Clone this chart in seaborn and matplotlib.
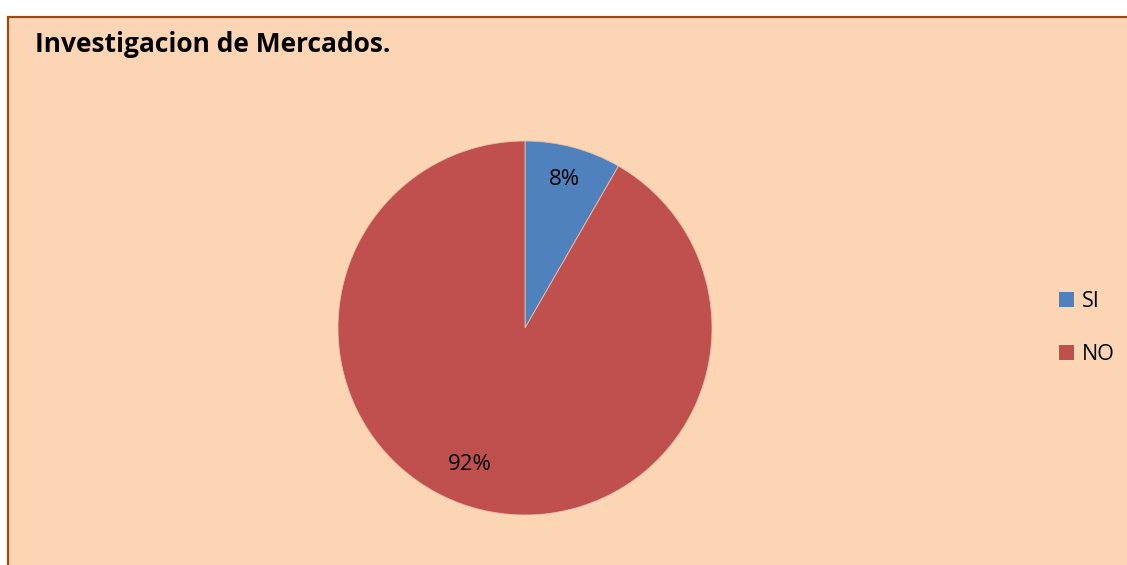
import matplotlib
matplotlib.use("Agg")
import matplotlib.pyplot as plt
from matplotlib.patches import Rectangle, Patch
import seaborn as sns

categories = ["SI", "NO"]
values = [8.33, 91.67]
colors = ["#4F81BD", "#C0504D"]
title = "Investigacion de Mercados."

sns.set_theme(style="white")
plt.rcParams['font.family'] = ['Open Sans', 'DejaVu Sans']
plt.rcParams['text.color'] = 'black'

W, H = 1127, 565
fig = plt.figure(figsize=(W / 100, H / 100), dpi=100, facecolor="white")

# chart area frame
bg = "#FCD5B5"
fig.patches.append(Rectangle((8 / W, -0.1), 1.2, 1 - 17 / H + 0.1,
                             transform=fig.transFigure, facecolor=bg,
                             edgecolor="#9A4A0E", linewidth=1.6, zorder=-5))

cx, cy, R = 525, 565 - 328, 187
half = 200
ax = fig.add_axes([(cx - half) / W, (cy - half) / H, 2 * half / W, 2 * half / H])
ax.set_facecolor("none")
ax.set_zorder(2)
wedges, texts, autotexts = ax.pie(values, colors=colors, startangle=90, counterclock=False,
                                  autopct=lambda p: f"{p:.0f}%", pctdistance=0.82,
                                  wedgeprops=dict(edgecolor="#E8C0A8", linewidth=0.6),
                                  textprops=dict(fontsize=16, color="black"))
# nudge the large-slice label like the original's placement
x, y = autotexts[1].get_position()
autotexts[1].set_position((x - 0.085, y + 0.06))

lim = half / R
ax.set_xlim(-lim, lim)
ax.set_ylim(-lim, lim)
ax.set_aspect("equal")
ax.axis("off")

fig.text(35 / W, 1 - 44 / H, title, fontsize=19, fontweight="bold", va="center", ha="left", color="black")

handles = [Patch(facecolor=c, edgecolor="none") for c in colors]
leg = fig.legend(handles, categories, loc="center left", bbox_to_anchor=(1040 / W, 1 - 328 / H),
                 frameon=False, fontsize=15.5, handlelength=0.7, handleheight=0.7,
                 handletextpad=0.35, labelspacing=1.5)
for t in leg.get_texts():
    t.set_color("black")

fig.savefig("out.png", dpi=100, facecolor="white")
